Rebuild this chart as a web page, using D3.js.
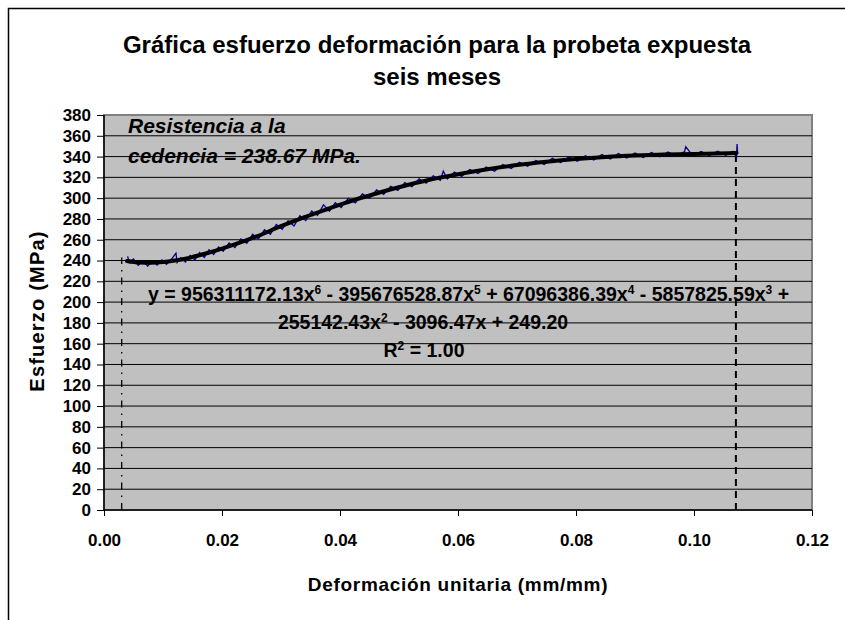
<!DOCTYPE html>
<html lang="es">
<head>
<meta charset="utf-8">
<style>
  body { margin: 0; background: #fff; }
  text { font-family: "Liberation Sans", Arial, sans-serif; font-weight: bold; fill: #000; }
</style>
<script src="https://d3js.org/d3.v7.min.js"></script>
</head>
<body>
<script>
// ensayo: deformación unitaria vs esfuerzo
var deformacion = [0.0040, 0.0043, 0.0050, 0.0058, 0.0066, 0.0074, 0.0082, 0.0090, 0.0098, 0.0106,
  0.0114, 0.0122, 0.0124, 0.0130, 0.0138, 0.0146, 0.0154, 0.0162, 0.0170, 0.0178,
  0.0186, 0.0194, 0.0202, 0.0212, 0.0222, 0.0232, 0.0242, 0.0252, 0.0262, 0.0272,
  0.0282, 0.0292, 0.0302, 0.0312, 0.0322, 0.0332, 0.0342, 0.0352, 0.0362, 0.0372,
  0.0382, 0.0392, 0.0402, 0.0414, 0.0426, 0.0438, 0.0450, 0.0462, 0.0474, 0.0486,
  0.0498, 0.0510, 0.0522, 0.0534, 0.0546, 0.0558, 0.0570, 0.0575, 0.0582, 0.0594,
  0.0606, 0.0620, 0.0634, 0.0648, 0.0662, 0.0676, 0.0690, 0.0704, 0.0718, 0.0732,
  0.0746, 0.0760, 0.0774, 0.0788, 0.0802, 0.0816, 0.0830, 0.0844, 0.0858, 0.0872,
  0.0886, 0.0900, 0.0914, 0.0928, 0.0942, 0.0956, 0.0970, 0.0984, 0.0986, 0.0998,
  0.1012, 0.1026, 0.1040, 0.1054, 0.1066, 0.1072, 0.1073, 0.1074];
var esfuerzo = [244.0, 238.0, 241.5, 235.5, 239.8, 234.8, 239.5, 235.6, 240.6, 236.4,
  241.2, 247.0, 238.0, 242.8, 238.6, 244.9, 240.5, 247.6, 243.0, 250.4,
  245.8, 253.0, 249.0, 256.9, 252.4, 260.8, 256.6, 265.3, 261.0, 269.7,
  265.2, 274.6, 270.0, 278.2, 273.2, 283.0, 278.5, 287.6, 283.4, 293.5,
  287.4, 295.6, 291.0, 299.8, 295.5, 304.2, 299.8, 308.0, 303.6, 311.4,
  307.5, 315.0, 311.0, 318.6, 314.4, 321.4, 317.3, 326.0, 318.6, 325.2,
  321.0, 327.6, 323.8, 330.0, 326.0, 332.4, 328.5, 334.5, 330.6, 336.3,
  332.4, 338.3, 334.2, 339.6, 335.4, 340.8, 336.6, 341.9, 337.6, 342.9,
  338.6, 343.5, 339.2, 344.0, 339.8, 344.4, 340.2, 344.8, 349.5, 340.6,
  345.0, 341.0, 345.2, 341.2, 345.0, 339.5, 352.0, 343.0];

var tendX = [0.0039, 0.006, 0.008, 0.010, 0.012, 0.014, 0.016, 0.018, 0.020, 0.023,
  0.026, 0.030, 0.034, 0.038, 0.042, 0.046, 0.050, 0.055, 0.060, 0.065,
  0.070, 0.075, 0.080, 0.085, 0.090, 0.095, 0.100, 0.104, 0.1072];
var tendY = [239.5, 238.0, 237.8, 238.5, 240.0, 242.0, 244.8, 248.0, 251.5, 257.2,
  263.5, 273.0, 281.8, 289.8, 297.5, 304.2, 310.5, 317.5, 323.0, 327.8,
  331.8, 335.0, 337.6, 339.6, 341.0, 342.0, 342.6, 343.0, 343.4];

// líneas verticales de referencia (inicio y fin del ensayo)
var marcaX = [0.0030, 0.1071];
var marcaY = [243, 343];

var xTicks = [0, 0.02, 0.04, 0.06, 0.08, 0.10, 0.12];
var yTicks = d3.range(0, 381, 20);

var width = 845, height = 620;
var mLeft = 104, mRight = 812, mTop = 115, mBottom = 510;

var svg = d3.select("body").append("svg")
    .attr("width", width)
    .attr("height", height);

// marco del gráfico
svg.append("rect")
   .attr("x", 8.5).attr("y", 8.5)
   .attr("width", 880).attr("height", 700)
   .attr("fill", "#fff")
   .attr("stroke", "#000")
   .attr("stroke-width", 1.5);

var x = d3.scaleLinear().domain([0, 0.12]).range([mLeft, mRight]);
var y = d3.scaleLinear().domain([0, 380]).range([mBottom, mTop]);

// área de trazado
svg.append("rect")
   .attr("x", mLeft).attr("y", mTop)
   .attr("width", mRight - mLeft).attr("height", mBottom - mTop)
   .attr("fill", "#c0c0c0")
   .attr("stroke", "#808080")
   .attr("stroke-width", 2);

// cuadrícula horizontal
svg.append("g")
   .selectAll("line")
   .data(yTicks.filter(function(d) { return d > 0 && d < 380; }))
   .enter().append("line")
   .attr("x1", mLeft).attr("x2", mRight)
   .attr("y1", function(d) { return y(d); })
   .attr("y2", function(d) { return y(d); })
   .attr("stroke", "#000")
   .attr("stroke-width", 1);

// ejes
var yAxis = d3.axisLeft(y).tickValues(yTicks).tickSize(7).tickPadding(6)
              .tickFormat(d3.format("d"));
var gy = svg.append("g")
   .attr("transform", "translate(" + mLeft + ",0)")
   .call(yAxis);

var xAxis = d3.axisBottom(x).tickValues(xTicks).tickSize(6).tickPadding(18)
              .tickFormat(d3.format(".2f"));
var gx = svg.append("g")
   .attr("transform", "translate(0," + mBottom + ")")
   .call(xAxis);

[gx, gy].forEach(function(g) {
    g.select(".domain").attr("stroke", "#000").attr("stroke-width", 1.5);
    g.selectAll(".tick line").attr("stroke", "#000").attr("stroke-width", 1);
    g.selectAll("text")
     .style("font-family", '"Liberation Sans", Arial, sans-serif')
     .style("font-weight", "bold")
     .style("font-size", "17px")
     .attr("fill", "#000");
});
gx.select(".domain").attr("d", "M" + mLeft + ",0H" + mRight);
gy.select(".domain").attr("d", "M0," + mBottom + "V" + mTop);

// líneas punteadas verticales
svg.append("line")
   .attr("x1", x(marcaX[0])).attr("x2", x(marcaX[0]))
   .attr("y1", y(0)).attr("y2", y(marcaY[0]))
   .attr("stroke", "#000").attr("stroke-width", 1.3)
   .attr("stroke-dasharray", "7,6,1.5,6");
svg.append("line")
   .attr("x1", x(marcaX[1])).attr("x2", x(marcaX[1]))
   .attr("y1", y(0)).attr("y2", y(marcaY[1]))
   .attr("stroke", "#000").attr("stroke-width", 2)
   .attr("stroke-dasharray", "7,5");

// datos del ensayo (azul)
var datos = deformacion.map(function(d, i) { return [d, esfuerzo[i]]; });
svg.append("path")
   .datum(datos)
   .attr("fill", "none")
   .attr("stroke", "#000099")
   .attr("stroke-width", 1.3)
   .attr("d", d3.line()
       .x(function(d) { return x(d[0]); })
       .y(function(d) { return y(d[1]); }));

// tendencia (negra)
var tend = tendX.map(function(d, i) { return [d, tendY[i]]; });
svg.append("path")
   .datum(tend)
   .attr("fill", "none")
   .attr("stroke", "#000")
   .attr("stroke-width", 4)
   .attr("stroke-linecap", "round")
   .attr("d", d3.line()
       .curve(d3.curveMonotoneX)
       .x(function(d) { return x(d[0]); })
       .y(function(d) { return y(d[1]); }));

// título
svg.append("text")
   .attr("x", 437).attr("y", 53)
   .attr("text-anchor", "middle")
   .style("font-size", "24px")
   .text("Gráfica esfuerzo deformación para la probeta expuesta");
svg.append("text")
   .attr("x", 437).attr("y", 85)
   .attr("text-anchor", "middle")
   .style("font-size", "24px")
   .text("seis meses");

// títulos de ejes
svg.append("text")
   .attr("x", 458).attr("y", 591)
   .attr("text-anchor", "middle")
   .style("font-size", "19px")
   .style("letter-spacing", "0.7px")
   .text("Deformación unitaria (mm/mm)");
svg.append("text")
   .attr("transform", "translate(44,311) rotate(-90)")
   .attr("text-anchor", "middle")
   .style("font-size", "20px")
   .style("letter-spacing", "1.2px")
   .text("Esfuerzo (MPa)");

// anotación de cedencia
svg.append("text")
   .attr("x", 128).attr("y", 133)
   .style("font-size", "21px")
   .style("font-style", "italic")
   .text("Resistencia a la");
svg.append("text")
   .attr("x", 128).attr("y", 163)
   .style("font-size", "21px")
   .style("font-style", "italic")
   .text("cedencia = 238.67 MPa.");

// ecuación de la tendencia: [texto, exponente]
function ecuacion(sel, partes) {
    var bajar = 0;
    partes.forEach(function(p) {
        sel.append("tspan").attr("dy", bajar).text(p[0]);
        bajar = 0;
        if (p[1]) {
            sel.append("tspan").attr("dy", -7).style("font-size", "12px").text(p[1]);
            bajar = 7;
        }
    });
}
var eq1 = svg.append("text")
   .attr("x", 148).attr("y", 301)
   .style("font-size", "19.5px");
ecuacion(eq1, [["y = 956311172.13x", "6"], [" - 395676528.87x", "5"], [" + 67096386.39x", "4"],
               [" - 5857825.59x", "3"], [" +", null]]);
var eq2 = svg.append("text")
   .attr("x", 423).attr("y", 329)
   .attr("text-anchor", "middle")
   .style("font-size", "19.5px");
ecuacion(eq2, [["255142.43x", "2"], [" - 3096.47x + 249.20", null]]);
var eq3 = svg.append("text")
   .attr("x", 424).attr("y", 357)
   .attr("text-anchor", "middle")
   .style("font-size", "19.5px");
ecuacion(eq3, [["R", "2"], [" = 1.00", null]]);
</script>
</body>
</html>
